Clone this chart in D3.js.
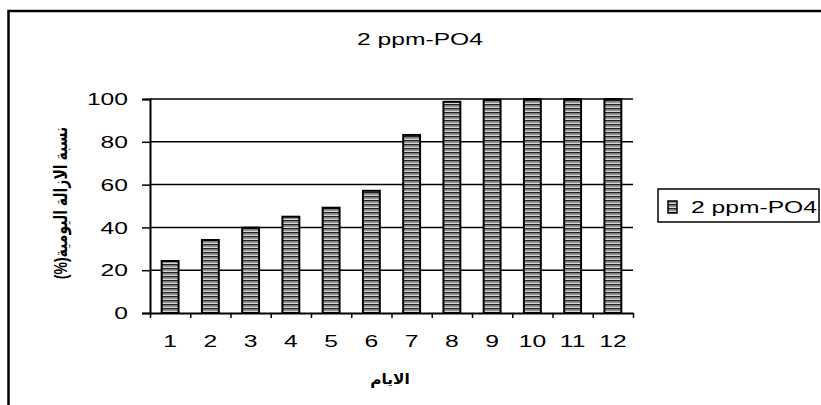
<!DOCTYPE html>
<html>
<head>
<meta charset="utf-8">
<script src="https://cdn.jsdelivr.net/npm/d3@7"></script>
<style>
  body { margin: 0; background: #fff; }
  text { font-family: "Liberation Sans", Arial, "DejaVu Sans", sans-serif; fill: #000; }
</style>
</head>
<body>
<div id="chart"></div>
<script>
// chart values
const days = ['1', '2', '3', '4', '5', '6', '7', '8', '9', '10', '11', '12']
const removal = [24.3, 34.1, 39.9, 45, 49.2, 57.1, 83.2, 98.7, 99.6, 100, 100, 100]
const yTicks = [0, 20, 40, 60, 80, 100]
const seriesName = '2 ppm-PO4'
const titleText = '2 ppm-PO4'
const xTitle = 'الايام'
const yTitle = 'نسبة الازالة اليومية(%)'

const width = 821,
  height = 405,
  plotLeft = 150,
  plotRight = 633,
  plotTop = 99,
  plotBottom = 313,
  stretch = 1.45

let svg = d3.select('#chart')
  .append('svg')
  .attr('width', width)
  .attr('height', height)

// striped fill like the old spreadsheet pattern
let pat = svg.append('defs').append('pattern')
  .attr('id', 'stripes')
  .attr('patternUnits', 'userSpaceOnUse')
  .attr('width', 6)
  .attr('height', 4)
pat.append('rect').attr('width', 6).attr('height', 1).attr('y', 0).attr('fill', '#222')
pat.append('rect').attr('width', 6).attr('height', 1).attr('y', 1).attr('fill', '#808080')
pat.append('rect').attr('width', 6).attr('height', 1).attr('y', 2).attr('fill', '#959595')
pat.append('rect').attr('width', 6).attr('height', 1).attr('y', 3).attr('fill', '#d4d4d4')

// outer frame (right / bottom run off the picture)
svg.append('rect')
  .attr('x', 8.5).attr('y', 11)
  .attr('width', 840).attr('height', 420)
  .attr('fill', 'none').attr('stroke', '#000').attr('stroke-width', 2.5)

let x = d3.scaleBand().domain(days).range([plotLeft, plotRight]).padding(0)
let y = d3.scaleLinear().domain([0, 100]).range([plotBottom, plotTop])

let barW = x.bandwidth() * 0.42

// gridlines
svg.append('g')
  .selectAll('line')
  .data(yTicks.filter(d => d > 0))
  .enter()
  .append('line')
  .attr('x1', plotLeft).attr('x2', plotRight)
  .attr('y1', d => y(d)).attr('y2', d => y(d))
  .attr('stroke', '#000').attr('stroke-width', 1.5)

// bars
svg.append('g')
  .selectAll('rect')
  .data(removal)
  .enter()
  .append('rect')
  .attr('x', (d, i) => x(days[i]) + (x.bandwidth() - barW) / 2)
  .attr('y', d => y(d))
  .attr('width', barW)
  .attr('height', d => y(0) - y(d))
  .attr('fill', 'url(#stripes)')
  .attr('stroke', '#000')
  .attr('stroke-width', 2)

// y axis
let yAxis = svg.append('g')
  .attr('transform', `translate(${plotLeft},0)`)
  .call(d3.axisLeft(y).tickValues(yTicks).tickSize(8).tickFormat(''))
yAxis.select('.domain').attr('stroke', '#000').attr('stroke-width', 2)
yAxis.selectAll('.tick line').attr('stroke', '#000').attr('stroke-width', 1.5)

svg.append('g')
  .selectAll('text')
  .data(yTicks)
  .enter()
  .append('text')
  .attr('transform', d => `translate(128,${y(d)}) scale(${stretch},1)`)
  .attr('text-anchor', 'end')
  .attr('dy', '0.36em')
  .style('font-size', '17px')
  .text(d => d)

// x axis, ticks sit on category boundaries
let edges = d3.scaleLinear().domain([0, days.length]).range([plotLeft, plotRight])
let xAxis = svg.append('g')
  .attr('transform', `translate(0,${plotBottom})`)
  .call(d3.axisBottom(edges).ticks(days.length).tickSize(5).tickFormat('').tickSizeOuter(0))
xAxis.select('.domain').attr('stroke', '#000').attr('stroke-width', 2)
xAxis.selectAll('.tick line').attr('stroke', '#000').attr('stroke-width', 1.5)

svg.append('g')
  .selectAll('text')
  .data(days)
  .enter()
  .append('text')
  .attr('transform', d => `translate(${x(d) + x.bandwidth() / 2},347) scale(${stretch},1)`)
  .attr('text-anchor', 'middle')
  .style('font-size', '17px')
  .text(d => d)

// titles
svg.append('text')
  .attr('transform', `translate(420,45) scale(${stretch},1)`)
  .attr('text-anchor', 'middle')
  .style('font-size', '17px')
  .text(titleText)

svg.append('text')
  .attr('transform', 'translate(390,384) scale(1.1,1)')
  .attr('text-anchor', 'middle')
  .attr('direction', 'rtl')
  .style('font-size', '14px')
  .style('font-weight', 'bold')
  .text(xTitle)

svg.append('text')
  .attr('transform', 'translate(61,203) scale(1.3,1) rotate(-90)')
  .attr('text-anchor', 'middle')
  .attr('direction', 'rtl')
  .attr('dy', '0.35em')
  .style('font-size', '14px')
  .style('font-weight', 'bold')
  .text(yTitle)

// legend
let legend = svg.append('g')
legend.append('rect')
  .attr('x', 658).attr('y', 189)
  .attr('width', 161).attr('height', 33)
  .attr('fill', '#fff').attr('stroke', '#000').attr('stroke-width', 1.5)
legend.append('rect')
  .attr('x', 668).attr('y', 201)
  .attr('width', 9).attr('height', 12)
  .attr('fill', 'url(#stripes)').attr('stroke', '#000').attr('stroke-width', 1.5)
legend.append('text')
  .attr('transform', `translate(691,213) scale(${stretch},1)`)
  .style('font-size', '17px')
  .text(seriesName)
</script>
</body>
</html>
